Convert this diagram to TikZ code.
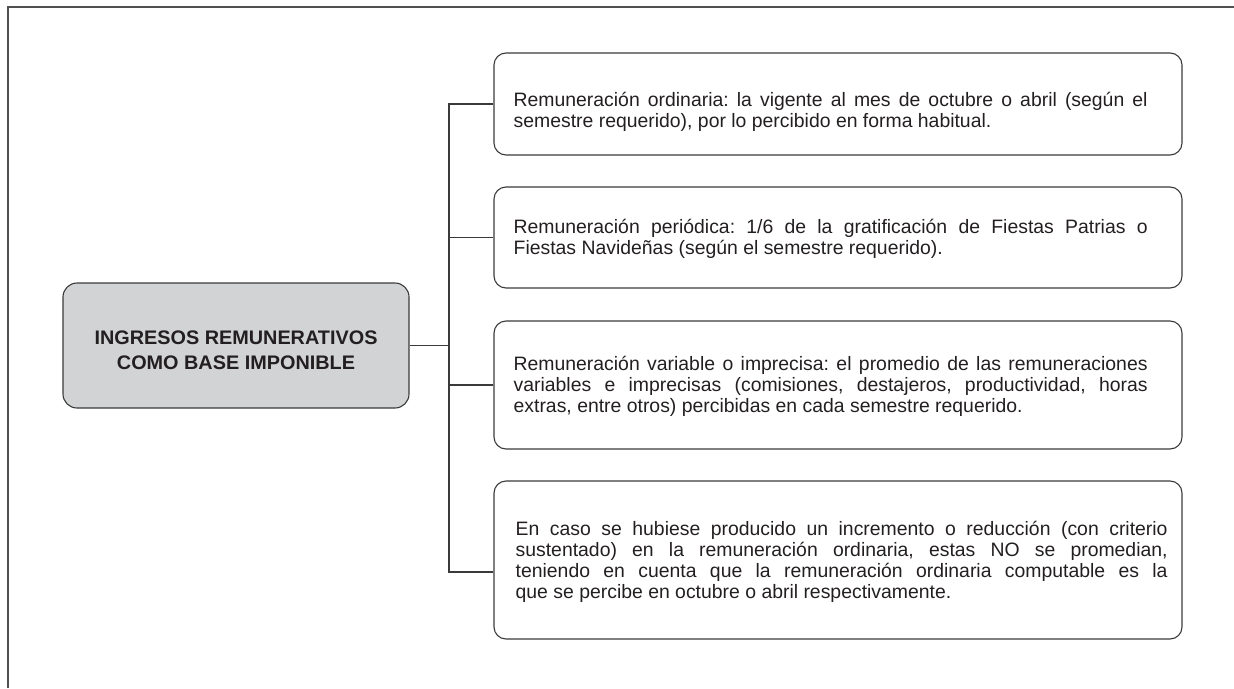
\documentclass[tikz,border=0pt]{standalone}
\usepackage{fontspec}
\setmainfont{Liberation Sans}
\usetikzlibrary{calc}
\definecolor{framec}{HTML}{505050}
\definecolor{boxc}{HTML}{3A3A3A}
\definecolor{mainfill}{HTML}{D1D3D4}
\definecolor{txtc}{HTML}{231F20}
\newlength\titlewd
\AtBeginDocument{\settowidth\titlewd{\normalfont\bfseries\fontsize{19.6}{25}\selectfont INGRESOS REMUNERATIVOS}%
  \pgfmathsetmacro\titlesx{283pt/\titlewd}\global\let\titlesx\titlesx}
\begin{document}
\begin{tikzpicture}[x=1pt,y=-1pt,
  box/.style={draw=boxc, line width=1.1pt, rounded corners=12pt, inner sep=0pt},
  txt/.style={text=txtc, font=\fontsize{19.4}{21}\selectfont\frenchspacing, align=justify, inner sep=0pt, anchor=west},
  link/.style={draw=boxc, line width=1.1pt}]
\useasboundingbox (0,0) rectangle (1234,688);
\draw[framec, line width=1.6pt] (8,688) -- (8,7) -- (1234,7);

\node[box, fill=mainfill, rounded corners=14pt, minimum width=346pt, minimum height=125pt] (main) at (236,345.5) {};
\node[align=center, inner sep=0pt, text=txtc, font=\bfseries\fontsize{19.6}{25}\selectfont,
      xscale=\titlesx, transform shape] (title)
  at ($(main.center)+(0,5)$) {INGRESOS REMUNERATIVOS\\COMO BASE IMPONIBLE};

\node[box, minimum width=688pt, minimum height=102pt] (b1) at (838,104) {};
\node[box, minimum width=688pt, minimum height=101pt] (b2) at (838,237.5) {};
\node[box, minimum width=688pt, minimum height=128pt] (b3) at (838,385) {};
\node[box, minimum width=688pt, minimum height=158pt] (b4) at (838,560) {};

\node[txt, text width=634pt] (t1) at ($(b1.west)+(20,7.5)$)
  {\hyphenpenalty=10000 Remuneración ordinaria: la vigente al mes de octubre o abril (según el\linebreak semestre requerido), por lo percibido en forma habitual.};
\node[txt, text width=634pt] (t2) at ($(b2.west)+(20,1.5)$)
  {\hyphenpenalty=10000 Remuneración periódica: 1/6 de la gratificación de Fiestas Patrias o\linebreak Fiestas Navideñas (según el semestre requerido).};
\node[txt, text width=634pt] (t3) at ($(b3.west)+(20,1.5)$)
  {\hyphenpenalty=10000 Remuneración variable o imprecisa: el promedio de las remuneraciones\linebreak variables e imprecisas (comisiones, destajeros, productividad, horas\linebreak extras, entre otros) percibidas en cada semestre requerido.};
\node[txt, text width=652pt] (t4) at ($(b4.west)+(22,1.5)$)
  {\hyphenpenalty=10000 En caso se hubiese producido un incremento o reducción (con criterio\linebreak sustentado) en la remuneración ordinaria, estas NO se promedian,\linebreak teniendo en cuenta que la remuneración ordinaria computable es la\linebreak que se percibe en octubre o abril respectivamente.};

\coordinate (j) at (449,345.5);
\coordinate (b4in) at ($(b4.west)+(0,12)$);
\draw[link] (main.east) -- (j);
\draw[link] (b1.west) -| (j);
\draw[link] (b4in) -| (j);
\draw[link] (b2.west) -- (b2.west -| j);
\draw[link] (b3.west) -- (b3.west -| j);
\end{tikzpicture}
\end{document}
